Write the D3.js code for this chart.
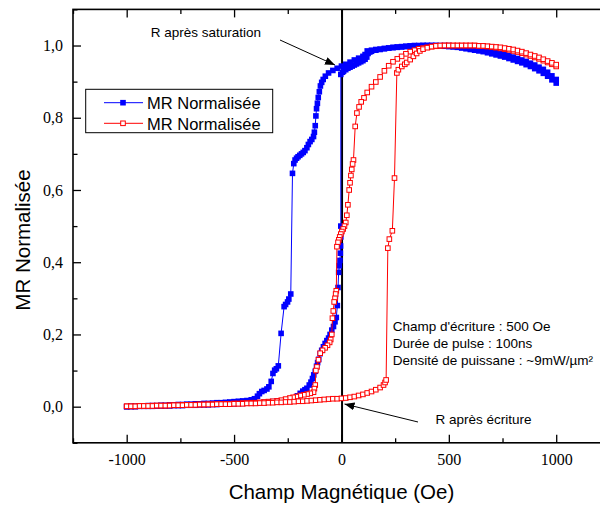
<!DOCTYPE html>
<html><head><meta charset="utf-8">
<script src="https://cdn.jsdelivr.net/npm/d3@7"></script>
<style>body{margin:0;background:#fff}</style>
</head><body>
<svg id="c" width="600" height="506"></svg>
<script>
// ---- data (H in Oe, normalised MR) ----
const xMajorTicks = [-1000, -500, 0, 500, 1000];
const xMinorTicks = [-1250, -750, -250, 250, 750, 1250];
const yMajorTicks = [0, 0.2, 0.4, 0.6, 0.8, 1.0];
const yMinorTicks = [-0.1, 0.1, 0.3, 0.5, 0.7, 0.9, 1.1];
const legendLabels = ["MR Normalisée", "MR Normalisée"];
const xTitle = "Champ Magnétique (Oe)";
const yTitle = "MR Normalisée";
const noteLines = ["Champ d'écriture : 500 Oe", "Durée de pulse : 100ns", "Densité de puissane : ~9mW/µm²"];

const blueDown = [[1000,0.906],[980,0.916],[960,0.926],[940,0.934],[920,0.940],[900,0.946],[880,0.951],[860,0.956],[840,0.960],[820,0.964],[800,0.968],[780,0.972],[760,0.975],[740,0.978],[720,0.981],[700,0.984],[680,0.986],[660,0.988],[640,0.990],[620,0.992],[600,0.994],[580,0.996],[560,0.997],[540,0.998],[520,0.999],[500,1.000],[480,1.000],[460,1.000],[440,1.000],[420,1.000],[400,1.000],[380,1.000],[360,0.999],[340,0.999],[320,0.998],[300,0.997],[280,0.996],[260,0.995],[240,0.994],[220,0.993],[200,0.992],[180,0.990],[160,0.989],[140,0.987],[120,0.985],[110,0.975],[100,0.970],[80,0.965],[60,0.960],[40,0.954],[20,0.948],[0,0.943],[-20,0.937],[-40,0.931],[-60,0.924],[-75,0.915],[-85,0.906],[-92,0.898],[-98,0.888],[-103,0.872],[-108,0.856],[-112,0.840],[-116,0.825],[-119,0.805],[-122,0.778],[-126,0.760],[-130,0.748],[-138,0.740],[-146,0.734],[-154,0.726],[-161,0.717],[-170,0.709],[-178,0.704],[-186,0.700],[-194,0.696],[-202,0.692],[-209,0.688],[-216,0.683],[-222,0.673],[-228,0.646],[-236,0.312],[-245,0.298],[-251,0.290],[-260,0.283],[-267,0.277],[-281,0.203],[-294,0.113],[-303,0.105],[-311,0.101],[-319,0.092],[-327,0.070],[-338,0.055],[-347,0.049],[-360,0.045],[-371,0.042],[-382,0.036],[-391,0.029],[-405,0.022],[-420,0.019],[-440,0.017],[-460,0.016],[-480,0.015],[-500,0.014],[-520,0.013],[-540,0.012],[-560,0.011],[-580,0.011],[-600,0.010],[-620,0.009],[-640,0.009],[-660,0.008],[-680,0.008],[-700,0.007],[-720,0.007],[-740,0.006],[-760,0.006],[-780,0.005],[-800,0.005],[-820,0.004],[-840,0.004],[-860,0.003],[-880,0.003],[-900,0.003],[-920,0.002],[-940,0.002],[-960,0.001],[-980,0.001],[-1000,0.000]];

const blueUp = [[-1000,0.000],[-980,0.000],[-960,0.000],[-940,0.001],[-920,0.001],[-900,0.001],[-880,0.001],[-860,0.002],[-840,0.002],[-820,0.002],[-800,0.002],[-780,0.003],[-760,0.003],[-740,0.003],[-720,0.004],[-700,0.004],[-680,0.004],[-660,0.005],[-640,0.005],[-620,0.005],[-600,0.006],[-580,0.006],[-560,0.007],[-540,0.007],[-520,0.008],[-500,0.008],[-480,0.009],[-460,0.009],[-440,0.010],[-420,0.010],[-400,0.011],[-380,0.011],[-360,0.012],[-340,0.013],[-320,0.014],[-300,0.015],[-280,0.016],[-260,0.017],[-240,0.019],[-220,0.023],[-205,0.030],[-192,0.037],[-180,0.043],[-170,0.047],[-161,0.051],[-150,0.060],[-142,0.068],[-135,0.078],[-129,0.088],[-122,0.098],[-116,0.112],[-111,0.122],[-106,0.131],[-99,0.147],[-92,0.156],[-84,0.166],[-76,0.175],[-68,0.183],[-60,0.190],[-53,0.200],[-45,0.212],[-37,0.222],[-30,0.235],[-24,0.247],[-19,0.280],[-16,0.330],[-13,0.372],[-10,0.390],[-7,0.405],[-5,0.425],[-4,0.445],[-3,0.470],[-3,0.500],[-3,0.920],[5,0.926],[10,0.929],[20,0.933],[30,0.937],[40,0.940],[50,0.943],[60,0.946],[70,0.949],[80,0.952],[90,0.955],[100,0.958],[110,0.962],[118,0.968],[124,0.978],[132,0.982],[140,0.984],[160,0.987],[180,0.989],[200,0.991],[220,0.993],[240,0.995],[260,0.996],[280,0.997],[300,0.998],[320,0.999],[340,1.000],[360,1.000],[380,1.000],[400,1.000],[420,1.000],[440,1.000],[460,0.999],[480,0.998],[500,0.997],[520,0.996],[540,0.995],[560,0.993],[580,0.991],[600,0.989],[620,0.987],[640,0.985],[660,0.983],[680,0.980],[700,0.977],[720,0.974],[740,0.971],[760,0.968],[780,0.964],[800,0.960],[820,0.956],[840,0.952],[860,0.947],[880,0.942],[900,0.936],[920,0.930],[940,0.923],[960,0.915],[980,0.905],[1000,0.896]];

const redDown = [[1000,0.942],[980,0.948],[960,0.953],[940,0.958],[920,0.963],[900,0.967],[880,0.971],[860,0.975],[840,0.979],[820,0.982],[800,0.985],[780,0.988],[760,0.990],[740,0.992],[720,0.994],[700,0.996],[680,0.997],[660,0.998],[640,0.999],[620,1.000],[600,1.000],[580,1.000],[560,1.000],[540,1.000],[520,1.000],[500,1.000],[480,1.000],[460,0.999],[440,0.998],[420,0.997],[400,0.995],[380,0.993],[360,0.991],[340,0.987],[320,0.983],[300,0.977],[280,0.970],[260,0.963],[240,0.955],[220,0.944],[200,0.930],[180,0.913],[160,0.899],[140,0.886],[120,0.870],[105,0.855],[92,0.844],[82,0.830],[72,0.813],[64,0.776],[56,0.683],[52,0.672],[48,0.657],[44,0.640],[40,0.620],[36,0.600],[30,0.559],[25,0.530],[20,0.510],[14,0.500],[8,0.492],[2,0.485],[-3,0.478],[-8,0.470],[-12,0.462],[-16,0.455],[-21,0.443],[-24,0.321],[-27,0.312],[-30,0.300],[-34,0.290],[-38,0.265],[-42,0.245],[-45,0.200],[-50,0.186],[-55,0.178],[-65,0.170],[-76,0.163],[-88,0.156],[-99,0.148],[-107,0.130],[-114,0.110],[-119,0.100],[-122,0.060],[-126,0.050],[-130,0.040],[-145,0.037],[-160,0.035],[-175,0.033],[-192,0.031],[-210,0.028],[-225,0.026],[-240,0.024],[-260,0.021],[-280,0.018],[-300,0.016],[-320,0.015],[-340,0.014],[-360,0.013],[-380,0.012],[-400,0.011],[-420,0.011],[-440,0.010],[-460,0.010],[-480,0.009],[-500,0.009],[-520,0.008],[-540,0.008],[-560,0.008],[-580,0.007],[-600,0.007],[-620,0.007],[-640,0.006],[-660,0.006],[-680,0.006],[-700,0.005],[-720,0.005],[-740,0.005],[-760,0.004],[-780,0.004],[-800,0.004],[-820,0.003],[-840,0.003],[-860,0.003],[-880,0.003],[-900,0.002],[-920,0.002],[-940,0.002],[-960,0.001],[-980,0.001],[-1000,0.001]];

const redUp = [[-1000,0.001],[-980,0.001],[-960,0.001],[-940,0.002],[-920,0.002],[-900,0.002],[-880,0.002],[-860,0.003],[-840,0.003],[-820,0.003],[-800,0.003],[-780,0.004],[-760,0.004],[-740,0.004],[-720,0.005],[-700,0.005],[-680,0.005],[-660,0.006],[-640,0.006],[-620,0.006],[-600,0.006],[-580,0.007],[-560,0.007],[-540,0.007],[-520,0.007],[-500,0.008],[-480,0.008],[-460,0.008],[-440,0.009],[-420,0.009],[-400,0.009],[-380,0.010],[-360,0.010],[-340,0.011],[-320,0.011],[-300,0.012],[-280,0.012],[-260,0.013],[-240,0.013],[-220,0.014],[-200,0.015],[-180,0.015],[-160,0.016],[-140,0.017],[-120,0.018],[-100,0.019],[-80,0.020],[-60,0.021],[-40,0.022],[-20,0.022],[0,0.023],[20,0.024],[40,0.026],[60,0.028],[80,0.031],[100,0.034],[120,0.038],[140,0.042],[160,0.047],[180,0.053],[196,0.060],[203,0.067],[208,0.074],[216,0.439],[223,0.464],[237,0.487],[247,0.633],[258,0.924],[265,0.933],[281,0.942],[295,0.948],[304,0.953],[320,0.961],[335,0.970],[350,0.978],[365,0.985],[380,0.990],[400,0.994],[420,0.997],[440,0.999],[460,1.000],[480,1.000],[500,1.000],[520,1.000],[540,1.000],[560,1.000],[580,1.000],[600,1.000],[620,1.000],[640,0.999],[660,0.999],[680,0.998],[700,0.997],[720,0.996],[740,0.995],[760,0.993],[780,0.991],[800,0.989],[820,0.986],[840,0.983],[860,0.979],[880,0.975],[900,0.971],[920,0.967],[940,0.962],[960,0.957],[980,0.952],[1000,0.947]];

// ---- chart ----
const svg = d3.select("#c");
const x = d3.scaleLinear().domain([-1250, 1250]).range([73, 609.9]);
const y = d3.scaleLinear().domain([-0.1, 1.1]).range([442.8, 9.4]);
const X0 = 73, X1 = 609.9, Y0 = 442.8, Y1 = 9.4;

svg.append("rect").attr("width", 600).attr("height", 506).attr("fill", "#fff");

// zero line
svg.append("line").attr("x1", x(0) + 0.6).attr("x2", x(0) + 0.6).attr("y1", Y1).attr("y2", Y0)
  .attr("stroke", "#000").attr("stroke-width", 2);

function styleAxis(g) {
  g.select(".domain").remove();
  g.selectAll(".tick line").attr("stroke", "#000").attr("stroke-width", 1.3);
  g.selectAll("text").attr("font-family", "'Liberation Serif', 'Times New Roman', serif")
    .attr("font-size", 16).attr("fill", "#000");
}
const fmtY = d => d3.format(".1f")(d).replace(".", ",");

svg.append("g").attr("transform", `translate(0,${Y0})`)
  .call(d3.axisBottom(x).tickValues(xMajorTicks).tickSize(-8).tickPadding(11).tickFormat(d => String(d))).call(styleAxis);
svg.append("g").attr("transform", `translate(0,${Y0})`)
  .call(d3.axisBottom(x).tickValues(xMinorTicks).tickSize(-4.5).tickFormat("")).call(styleAxis);
svg.append("g").attr("transform", `translate(0,${Y1})`)
  .call(d3.axisTop(x).tickValues(xMajorTicks).tickSize(-8).tickFormat("")).call(styleAxis);
svg.append("g").attr("transform", `translate(0,${Y1})`)
  .call(d3.axisTop(x).tickValues(xMinorTicks).tickSize(-4.5).tickFormat("")).call(styleAxis);
svg.append("g").attr("transform", `translate(${X0},0)`)
  .call(d3.axisLeft(y).tickValues(yMajorTicks).tickSize(-8).tickPadding(10).tickFormat(fmtY)).call(styleAxis);
svg.append("g").attr("transform", `translate(${X0},0)`)
  .call(d3.axisLeft(y).tickValues(yMinorTicks).tickSize(-4.5).tickFormat("")).call(styleAxis);
svg.append("g").attr("transform", `translate(${X1},0)`)
  .call(d3.axisRight(y).tickValues(yMajorTicks).tickSize(-8).tickFormat("")).call(styleAxis);

// frame
svg.append("rect").attr("x", X0).attr("y", Y1).attr("width", X1 - X0).attr("height", Y0 - Y1)
  .attr("fill", "none").attr("stroke", "#000").attr("stroke-width", 1.6);

// series
const line = d3.line().x(d => x(d[0])).y(d => y(d[1]));
const BS = 5.6, RS = 4.6;
function drawSeries(data, color, filled) {
  const g = svg.append("g");
  g.append("path").attr("d", line(data)).attr("fill", "none").attr("stroke", color).attr("stroke-width", 1);
  const s = filled ? BS : RS;
  g.selectAll("rect").data(data).join("rect")
    .attr("x", d => x(d[0]) - s / 2).attr("y", d => y(d[1]) - s / 2)
    .attr("width", s).attr("height", s)
    .attr("fill", filled ? color : "#fff")
    .attr("stroke", filled ? "none" : color).attr("stroke-width", 1);
}
drawSeries(blueDown, "#0000ff", true);
drawSeries(blueUp, "#0000ff", true);
drawSeries(redDown, "#ff0000", false);
drawSeries(redUp, "#ff0000", false);

// legend
const lg = svg.append("g");
lg.append("rect").attr("x", 85.7).attr("y", 89.3).attr("width", 187).attr("height", 43.4)
  .attr("fill", "#fff").attr("stroke", "#000").attr("stroke-width", 1);
[["#0000ff", true, 102.7], ["#ff0000", false, 123.3]].forEach((it, i) => {
  lg.append("line").attr("x1", 104).attr("x2", 143).attr("y1", it[2]).attr("y2", it[2])
    .attr("stroke", it[0]).attr("stroke-width", 1);
  const s = it[1] ? BS : RS;
  lg.append("rect").attr("x", 123 - s / 2).attr("y", it[2] - s / 2).attr("width", s).attr("height", s)
    .attr("fill", it[1] ? it[0] : "#fff").attr("stroke", it[1] ? "none" : it[0]);
  lg.append("text").attr("x", 147).attr("y", it[2] + 6.5).text(legendLabels[i])
    .attr("font-family", "'Liberation Sans', Arial, sans-serif").attr("font-size", 16.5).attr("fill", "#000");
});

// axis titles
svg.append("text").attr("x", x(0)).attr("y", 499).attr("text-anchor", "middle")
  .attr("font-family", "'Liberation Sans', Arial, sans-serif").attr("font-size", 20.5).text(xTitle);
svg.append("text").attr("transform", "translate(30,240) rotate(-90)").attr("text-anchor", "middle")
  .attr("font-family", "'Liberation Sans', Arial, sans-serif").attr("font-size", 20.5).text(yTitle);

// annotations
const defs = svg.append("defs");
defs.append("marker").attr("id", "ah").attr("viewBox", "0 0 10 8").attr("refX", 10).attr("refY", 4)
  .attr("markerWidth", 10).attr("markerHeight", 8).attr("markerUnits", "userSpaceOnUse").attr("orient", "auto")
  .append("path").attr("d", "M0,0 L10,4 L0,8 Z").attr("fill", "#000");
const af = "'Liberation Sans', Arial, sans-serif";
svg.append("text").attr("x", 150.7).attr("y", 36.5).attr("font-family", af).attr("font-size", 13.5).text("R après saturation");
svg.append("line").attr("x1", 280).attr("y1", 40).attr("x2", 335).attr("y2", 65)
  .attr("stroke", "#000").attr("stroke-width", 1).attr("marker-end", "url(#ah)");
svg.append("text").attr("x", 435.5).attr("y", 424).attr("font-family", af).attr("font-size", 13.5).text("R après écriture");
svg.append("line").attr("x1", 418).attr("y1", 422).attr("x2", 344.5).attr("y2", 404)
  .attr("stroke", "#000").attr("stroke-width", 1).attr("marker-end", "url(#ah)");
noteLines.forEach((t, i) => {
  svg.append("text").attr("x", 392.7).attr("y", 331 + i * 16.8).attr("font-family", af)
    .attr("font-size", 13.5).text(t);
});
</script>
</body></html>
